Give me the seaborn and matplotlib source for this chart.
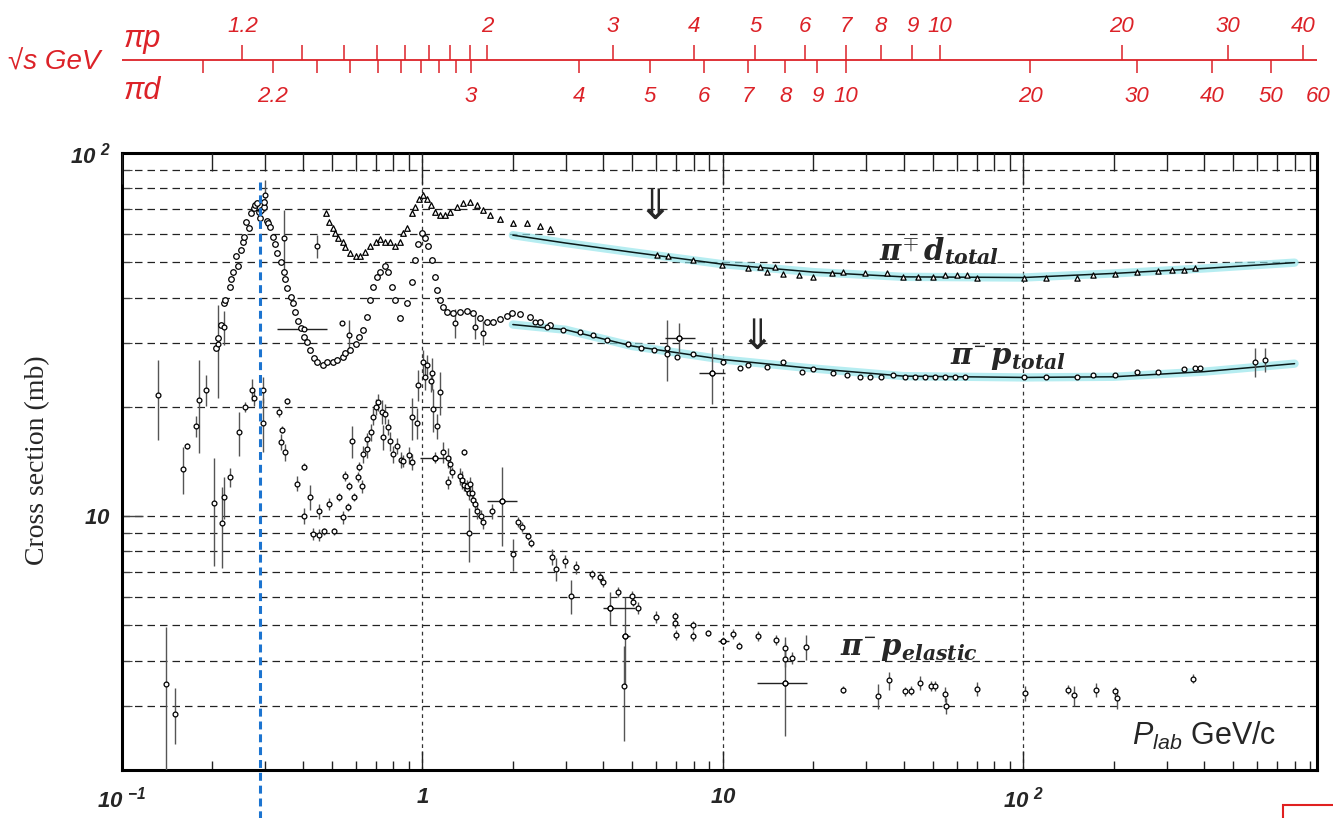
import numpy as np
import matplotlib
matplotlib.use("Agg")
import matplotlib.pyplot as plt
import matplotlib.transforms as mtransforms
from matplotlib.patches import Rectangle
from matplotlib.ticker import LogLocator, NullFormatter, FixedLocator, FixedFormatter
import seaborn as sns

# ---------------- data ----------------
# pi- p total, resonance region (GeV/c, mb)
tot_lo_p = [0.205, 0.208, 0.213, 0.218, 0.221, 0.228, 0.231, 0.235, 0.239, 0.244,
            0.248, 0.252, 0.255, 0.259, 0.264, 0.268, 0.274, 0.278, 0.282, 0.285,
            0.287, 0.291, 0.296, 0.298, 0.303, 0.307, 0.312, 0.319, 0.324, 0.329,
            0.337, 0.345, 0.350, 0.355, 0.364, 0.372, 0.378, 0.384, 0.393, 0.402,
            0.414, 0.424, 0.434, 0.447, 0.465, 0.483, 0.502, 0.521, 0.542, 0.554,
            0.576, 0.599, 0.617, 0.636, 0.656, 0.671, 0.687, 0.708, 0.725, 0.753,
            0.770, 0.794, 0.813, 0.845, 0.891, 0.926, 0.948, 0.970, 1.000, 1.023,
            1.047, 1.080, 1.105, 1.122, 1.148, 1.175, 1.211, 1.268, 1.338, 1.412,
            1.479, 1.559, 1.646, 1.723, 1.818, 1.918, 1.993, 2.119, 2.288, 2.469, 2.664]
tot_lo_sig = [29.1, 31.0, 33.7, 38.7, 39.4, 42.8, 44.9, 46.9, 51.9, 48.7,
              54.2, 56.7, 58.8, 64.5, 62.2, 68.4, 70.5, 71.9, 72.8, 68.8,
              66.4, 69.6, 70.9, 73.3, 65.0, 64.3, 62.5, 58.8, 56.0, 53.2,
              50.2, 46.9, 44.9, 42.5, 40.2, 38.7, 36.6, 34.5, 33.0, 31.2,
              30.1, 28.7, 27.3, 26.5, 26.1, 26.5, 26.6, 27.0, 27.5, 28.2,
              28.7, 29.7, 31.2, 32.6, 35.4, 39.4, 42.8, 45.7, 46.9, 48.7,
              46.9, 42.8, 39.4, 35.2, 38.7, 44.1, 50.9, 56.0, 60.4, 58.5,
              55.3, 50.9, 45.7, 42.0, 39.4, 37.7, 36.6, 36.3, 36.6, 36.8,
              36.3, 35.2, 34.3, 34.3, 34.8, 35.6, 36.3, 36.1, 35.4, 34.3, 33.7]

# pi- p total, high energy
tot_hi_p = [2.378, 2.602, 2.943, 3.357, 3.706, 4.123, 4.818, 5.326, 5.883, 6.533,
            7.060, 7.975, 10.04, 11.4, 12.1, 14.0, 15.9, 18.4, 20.0, 23.2,
            25.9, 28.7, 31.0, 33.6, 36.9, 40.5, 43.7, 47.2, 50.8, 54.9,
            59.3, 64.0, 100.7, 119, 151, 170, 202, 239, 280, 342, 373, 388]
tot_hi_sig = [34.3, 33.2, 32.6, 32.2, 31.6, 30.5, 29.7, 29.1, 28.7, 28.0,
              27.5, 28.0, 26.6, 25.6, 26.1, 25.8, 26.6, 25.0, 25.5, 24.8,
              24.5, 24.2, 24.2, 24.2, 24.4, 24.2, 24.1, 24.1, 24.1, 24.1,
              24.1, 24.1, 24.1, 24.1, 24.1, 24.4, 24.5, 24.9, 25.0, 25.4, 25.6, 25.6]

# total cross sections with visible error bars
te_p = [0.209, 0.218, 0.300, 0.345, 0.447, 0.538, 0.571, 1.288, 1.501, 1.596,
        6.53, 7.17, 9.22, 591, 638]
te_sig = [29.7, 33.2, 76.7, 58.5, 55.3, 34.1, 31.6, 34.1, 33.2, 32.0,
          29.1, 31.0, 24.8, 26.6, 27.0]
te_err = [8.5, 3.6, 7.3, 11.0, 4.0, 0.3, 3.0, 3.2, 2.5, 2.4,
          5.5, 3.0, 4.4, 2.5, 2.0]

# pi d total, resonance region
pid_p = [0.476, 0.487, 0.502, 0.513, 0.525, 0.542, 0.554, 0.576, 0.599, 0.622,
         0.646, 0.671, 0.698, 0.725, 0.753, 0.782, 0.813, 0.845, 0.864, 0.891,
         0.926, 0.948, 0.977, 1.008, 1.039, 1.071, 1.105, 1.148, 1.193, 1.239,
         1.307, 1.369, 1.444, 1.524, 1.596, 1.684, 1.818, 2.008, 2.235, 2.469, 2.664]
pid_sig = [68.4, 64.7, 62.2, 60.2, 58.5, 56.7, 55.0, 53.2, 51.9, 52.2,
           53.5, 55.3, 56.9, 58.0, 56.9, 56.7, 55.6, 56.9, 60.2, 62.2,
           68.4, 70.9, 74.9, 76.7, 74.9, 71.9, 68.8, 67.5, 67.5, 68.8,
           70.9, 72.8, 73.3, 71.9, 69.6, 67.5, 66.0, 64.3, 64.3, 63.1, 61.8]

# pi d total, high energy
pidh_p = [6.06, 6.58, 7.98, 9.96, 12.1, 13.3, 14.0, 14.9, 15.9, 17.9,
          20.0, 23.1, 25.1, 29.8, 35.3, 39.9, 44.7, 50.0, 54.9, 60.1,
          64.9, 70.0, 100.7, 119, 151, 170, 202, 239, 280, 312, 342, 373]
pidh_sig = [52.5, 51.9, 50.9, 49.3, 48.1, 48.4, 46.9, 48.4, 46.3, 46.0,
            45.7, 46.6, 46.9, 46.6, 46.6, 45.7, 45.7, 45.7, 46.0, 46.0,
            46.0, 45.4, 45.4, 45.4, 45.4, 46.0, 46.3, 46.9, 47.2, 47.5, 47.5, 48.1]

# pi- p elastic
el_p = [0.132, 0.159, 0.165, 0.176, 0.180, 0.191, 0.202, 0.216, 0.219, 0.228,
        0.246, 0.257, 0.270, 0.274, 0.294, 0.294, 0.332, 0.340, 0.337, 0.350,
        0.353, 0.381, 0.405, 0.424, 0.405, 0.431, 0.451, 0.451, 0.472, 0.487,
        0.506, 0.529, 0.546, 0.554, 0.567, 0.571, 0.585, 0.590, 0.608, 0.613,
        0.627, 0.636, 0.656, 0.656, 0.676, 0.687, 0.703, 0.714, 0.736, 0.742,
        0.753, 0.770, 0.782, 0.800, 0.826, 0.851, 0.864, 0.905, 0.926, 0.926,
        0.962, 0.970, 1.008, 1.023, 1.039, 1.080, 1.071, 1.088, 1.122, 1.140,
        1.097, 1.175, 1.220, 1.239, 1.258, 1.220, 1.380, 1.338, 1.359, 1.380,
        1.402, 1.412, 1.434, 1.445, 1.467, 1.479, 1.501, 1.524, 1.571, 1.596,
        1.434, 1.711, 1.846, 2.086, 2.152, 2.253, 2.306, 2.008, 2.706, 2.790,
        2.989, 3.131, 3.257, 3.678, 3.911, 4.000, 4.2, 4.49, 4.67, 4.74,
        4.97, 5.01, 5.21, 6.00, 6.95, 6.95, 7.01, 7.98, 7.98, 8.95,
        10.04, 10.8, 11.3, 13.1, 15.0, 16.1, 16.1, 17.0, 18.9, 16.1,
        25.1, 32.9, 35.6, 40.5, 42.4, 45.4, 49.2, 50.8, 54.9, 55.3,
        70.0, 101, 141, 148, 175, 202, 205, 366, 0.140, 0.150]
el_sig = [21.6, 13.5, 15.6, 17.7, 20.9, 22.3, 10.9, 9.6, 11.3, 12.8,
          17.0, 20.0, 22.3, 21.2, 22.3, 18.1, 19.4, 17.3, 16.0, 15.0,
          20.7, 12.3, 13.7, 11.3, 10.0, 8.92, 8.87, 10.3, 9.09, 10.8,
          9.09, 11.3, 9.94, 12.9, 10.6, 12.1, 16.1, 11.3, 12.8, 13.7,
          12.1, 14.8, 15.3, 16.3, 17.0, 18.8, 20.0, 20.6, 19.4, 16.5,
          19.1, 17.6, 16.1, 14.8, 15.6, 14.3, 14.2, 14.7, 14.1, 18.7,
          18.1, 23.0, 26.5, 24.2, 26.1, 24.8, 23.5, 19.7, 17.7, 22.0,
          14.5, 15.0, 14.5, 13.9, 13.2, 12.4, 15.0, 12.9, 12.6, 12.2,
          11.9, 12.1, 11.6, 12.3, 11.6, 11.1, 10.8, 10.3, 10.0, 9.63,
          9.0, 10.3, 11.0, 9.63, 9.33, 8.81, 8.43, 7.86, 7.72, 7.15,
          7.52, 6.03, 7.24, 6.93, 6.80, 6.59, 5.6, 6.18, 3.40, 4.68,
          6.03, 5.81, 5.59, 5.28, 5.31, 5.08, 4.71, 5.01, 4.68, 4.77,
          4.54, 4.74, 4.40, 4.68, 4.56, 4.34, 4.05, 4.07, 4.37, 3.48,
          3.33, 3.19, 3.53, 3.29, 3.31, 3.48, 3.41, 3.41, 3.23, 3.01,
          3.35, 3.25, 3.33, 3.21, 3.33, 3.29, 3.15, 3.57, 3.45, 2.86]
el_err = [5.4, 2.0, 0.3, 1.2, 6.0, 2.2, 3.6, 2.4, 1.5, 0.8,
          2.4, 0.6, 1.5, 1.1, 1.8, 3.1, 0.6, 0.4, 0.8, 0.8,
          0.4, 0.6, 0.3, 0.9, 0.5, 0.35, 0.35, 0.5, 0.2, 0.4,
          0.2, 0.3, 0.4, 0.4, 0.3, 0.3, 1.6, 0.3, 0.4, 0.4,
          0.5, 0.8, 0.8, 0.6, 0.9, 1.0, 1.0, 1.1, 1.5, 1.3,
          1.2, 0.9, 1.0, 0.8, 0.8, 0.7, 0.5, 0.8, 0.7, 2.5,
          1.8, 2.3, 2.1, 1.9, 1.7, 2.5, 1.5, 2.7, 1.4, 3.0,
          0.5, 1.0, 0.9, 0.7, 0.5, 0.5, 0.3, 0.7, 0.7, 0.5,
          0.5, 0.5, 0.5, 0.5, 0.5, 0.4, 0.4, 0.5, 0.4, 0.4,
          1.5, 0.5, 2.7, 0.3, 0.3, 0.2, 0.2, 0.8, 0.4, 0.5,
          0.3, 0.65, 0.3, 0.2, 0.2, 0.2, 0.6, 0.2, 1.0, 1.3,
          0.2, 0.15, 0.2, 0.2, 0.15, 0.15, 0.15, 0.15, 0.15, 0.1,
          0.1, 0.15, 0.1, 0.15, 0.15, 0.3, 0.2, 0.15, 0.35, 1.0,
          0.07, 0.25, 0.2, 0.1, 0.1, 0.15, 0.1, 0.1, 0.15, 0.15,
          0.15, 0.15, 0.1, 0.2, 0.15, 0.1, 0.2, 0.1, 1.5, 0.5]

# points with horizontal (momentum) bins
cross_p = [0.402, 1.097, 1.846, 4.2, 4.74, 16.1, 7.17, 9.22, 10.04]
cross_sig = [32.8, 14.5, 11.0, 5.6, 4.68, 3.48, 31.0, 24.8, 4.54]
cross_plo = [0.329, 0.985, 1.646, 4.0, 4.6, 13.0, 6.4, 8.3, 9.6]
cross_phi = [0.483, 1.211, 2.07, 5.1, 4.9, 19.1, 8.1, 10.2, 10.5]

# fits above 2 GeV/c
fit_p = [2, 3, 5, 10, 20, 40, 100, 200, 400, 800]
fit_pid = [59.4, 56.5, 53.3, 49.4, 47.0, 45.6, 45.4, 46.6, 48.1, 49.9]
fit_pim = [33.7, 32.6, 29.4, 27.0, 25.5, 24.3, 24.1, 24.2, 25.0, 26.3]

delta_plab = 0.287

# sqrt(s) scale (GeV)
sqrts_pp = [1.2, 1.3, 1.4, 1.5, 1.6, 1.7, 1.8, 1.9, 2, 3, 4, 5, 6, 7, 8, 9, 10, 20, 30, 40]
sqrts_pp_lab = [1.2, 2, 3, 4, 5, 6, 7, 8, 9, 10, 20, 30, 40]
sqrts_pd = [2.1, 2.2, 2.3, 2.4, 2.5, 2.6, 2.7, 2.8, 2.9, 3, 4, 5, 6, 7, 8, 9, 10,
            20, 30, 40, 50, 60]
sqrts_pd_lab = [2.2, 3, 4, 5, 6, 7, 8, 9, 10, 20, 30, 40, 50, 60]

M_PI, M_P, M_D = 0.13957, 0.93827, 1.87561


def plab(sqrts, m_t):
    s = np.asarray(sqrts, dtype=float) ** 2
    e = (s - M_PI ** 2 - m_t ** 2) / (2 * m_t)
    return np.sqrt(e ** 2 - M_PI ** 2)


# ---------------- style ----------------
sns.set_theme(style="white")
plt.rcParams["font.family"] = ["Liberation Sans", "DejaVu Sans"]
plt.rcParams["mathtext.fontset"] = "custom"
plt.rcParams["mathtext.bf"] = "Liberation Sans:bold:italic"
plt.rcParams["mathtext.it"] = "DejaVu Serif:bold:italic"
plt.rcParams["mathtext.sf"] = "Liberation Sans:italic"
plt.rcParams["mathtext.rm"] = "Liberation Sans"

RED = "#dc2228"
W, H = 1333, 818
XLIM = (0.1, 950)

fig = plt.figure(figsize=(W / 100, H / 100), dpi=100)
ax = fig.add_axes([122 / W, 1 - 770 / H, (1317 - 122) / W, (770 - 153) / H])
ax.set_xscale("log")
ax.set_yscale("log")
ax.set_xlim(*XLIM)
ax.set_ylim(2, 100)
ax.set_axisbelow(True)

# grid
ax.yaxis.set_minor_locator(LogLocator(base=10, subs=np.arange(2, 10)))
ax.xaxis.set_minor_locator(LogLocator(base=10, subs=np.arange(2, 10)))
ax.grid(which="both", axis="y", color="#222222", lw=0.9, ls=(0, (6, 4)))
ax.grid(which="major", axis="x", color="#333333", lw=0.9, ls=(0, (3, 3)))

# fit bands + lines
for fy in (fit_pid, fit_pim):
    sns.lineplot(x=fit_p, y=fy, ax=ax, color="#8fe4ea", lw=6, alpha=0.65,
                 sort=False, estimator=None, zorder=2)
    sns.lineplot(x=fit_p, y=fy, ax=ax, color="#0a1a1a", lw=1.1,
                 sort=False, estimator=None, zorder=3)

# error bars
ax.errorbar(el_p, el_sig, yerr=el_err, fmt="none", ecolor="#555555", elinewidth=1.0, zorder=3)
ax.errorbar(te_p, te_sig, yerr=te_err, fmt="none", ecolor="#555555", elinewidth=1.0, zorder=3)
ax.hlines(cross_sig, cross_plo, cross_phi, color="#222222", lw=1.0, zorder=3)

# markers
mk = dict(ax=ax, color="white", edgecolor="black", linewidth=0.9, legend=False, zorder=4)
sns.scatterplot(x=tot_lo_p, y=tot_lo_sig, marker="o", s=16, **mk)
sns.scatterplot(x=tot_hi_p, y=tot_hi_sig, marker="o", s=12, **mk)
sns.scatterplot(x=te_p, y=te_sig, marker="o", s=12, **mk)
sns.scatterplot(x=pid_p, y=pid_sig, marker="^", s=16, **mk)
sns.scatterplot(x=pidh_p, y=pidh_sig, marker="^", s=14, **mk)
sns.scatterplot(x=el_p, y=el_sig, marker="o", s=12, **mk)
sns.scatterplot(x=cross_p, y=cross_sig, marker="o", s=12, **mk)

# Delta resonance marker line
trans = mtransforms.blended_transform_factory(ax.transData, ax.transAxes)
ax.plot([delta_plab, delta_plab], [0.953, -0.078], transform=trans, color="#1c74d0",
        lw=2.2, ls=(0, (2.6, 1.6)), clip_on=False, zorder=5)

# arrows and labels
ax.text(5.96, 70.9, "\u21d3", fontsize=30, family="DejaVu Sans", ha="center", va="center")
ax.text(13.0, 31.2, "\u21d3", fontsize=30, family="DejaVu Sans", ha="center", va="center")
ax.text(33.0, 53.8, r"$\mathit{\pi^{\mp}\,d_{total}}$", fontsize=21, ha="left", va="center")
ax.text(57.0, 27.2, r"$\mathit{\pi^{-}\,p_{total}}$", fontsize=21, ha="left", va="center")
ax.text(24.5, 4.3, r"$\mathit{\pi^{-}\,p_{elastic}}$", fontsize=21, ha="left", va="center")
ax.text((1132 - 122) / 1195, (770 - 745) / 617, r"$\mathsf{P_{lab}}$ GeV/c",
        transform=ax.transAxes, fontsize=22, ha="left", va="baseline")

# frame and ticks
for sp in ax.spines.values():
    sp.set_color("black")
    sp.set_linewidth(2.2)
ax.xaxis.set_major_locator(FixedLocator([0.1, 1, 10, 100]))
ax.xaxis.set_major_formatter(FixedFormatter([r"$\mathbf{10}^{\ \mathbf{-1}}$", r"$\mathbf{1}$",
                                             r"$\mathbf{10}$", r"$\mathbf{10}^{\ \mathbf{2}}$"]))
ax.xaxis.set_minor_formatter(NullFormatter())
ax.yaxis.set_major_locator(FixedLocator([10, 100]))
ax.yaxis.set_major_formatter(FixedFormatter([r"$\mathbf{10}$", r"$\mathbf{10}^{\ \mathbf{2}}$"]))
ax.yaxis.set_minor_formatter(NullFormatter())
ax.tick_params(axis="x", which="major", direction="in", length=14, width=1, color="#222222",
               bottom=True, top=False, pad=12, labelsize=16)
ax.tick_params(axis="x", which="minor", direction="in", length=6.5, width=1, color="#222222",
               bottom=True, top=False)
ax.tick_params(axis="y", which="major", direction="in", length=15, width=1, color="#444444",
               left=True, right=False, pad=8, labelsize=16)
ax.tick_params(axis="y", which="minor", direction="in", length=7, width=0.8, color="#444444",
               left=True, right=False)

ax_t = ax.twiny()
ax_t.set_xscale("log")
ax_t.set_xlim(*XLIM)
ax_t.xaxis.set_minor_locator(LogLocator(base=10, subs=np.arange(2, 10)))
ax_t.xaxis.set_major_formatter(NullFormatter())
ax_t.xaxis.set_minor_formatter(NullFormatter())
ax_t.tick_params(axis="x", which="major", direction="in", length=22, width=1, color="#222222")
ax_t.tick_params(axis="x", which="minor", direction="in", length=13, width=1, color="#222222")
for sp in ax_t.spines.values():
    sp.set_visible(False)

fig.text(38 / W, 1 - 460 / H, "Cross section (mb)", rotation=90, family="Liberation Serif",
         fontsize=20, ha="center", va="center")

# ---------------- sqrt(s) strip on top ----------------
ax_s = fig.add_axes([122 / W, 1 - 120 / H, (1317 - 122) / W, 120 / H])
ax_s.set_xscale("log")
ax_s.set_xlim(*XLIM)
ax_s.set_ylim(120, 0)
ax_s.axis("off")
ax_s.axhline(60, color=RED, lw=1.3)
ax_s.vlines(plab(sqrts_pp, M_P), 45, 60, color=RED, lw=1.1)
ax_s.vlines(plab(sqrts_pd, M_D), 60, 73, color=RED, lw=1.1)
for v, x in zip(sqrts_pp_lab, plab(sqrts_pp_lab, M_P)):
    ax_s.text(x, 26, f"{v:g}", color=RED, style="italic", fontsize=16, ha="center", va="center")
for v, x in zip(sqrts_pd_lab, plab(sqrts_pd_lab, M_D)):
    ax_s.text(x, 97, f"{v:g}", color=RED, style="italic", fontsize=16, ha="center", va="center")

fig.text(8 / W, 1 - 63 / H, "\u221as GeV", color=RED, style="italic", fontsize=20,
         ha="left", va="center")
fig.text(124 / W, 1 - 39 / H, "\u03c0p", color=RED, style="italic", fontsize=22,
         ha="left", va="center")
fig.text(124 / W, 1 - 91 / H, "\u03c0d", color=RED, style="italic", fontsize=22,
         ha="left", va="center")

fig.add_artist(Rectangle((1283 / W, -0.01), 0.05, 0.0265, transform=fig.transFigure,
                         fill=False, edgecolor="#e02020", lw=1.5))

fig.savefig("out.png", dpi=100)
